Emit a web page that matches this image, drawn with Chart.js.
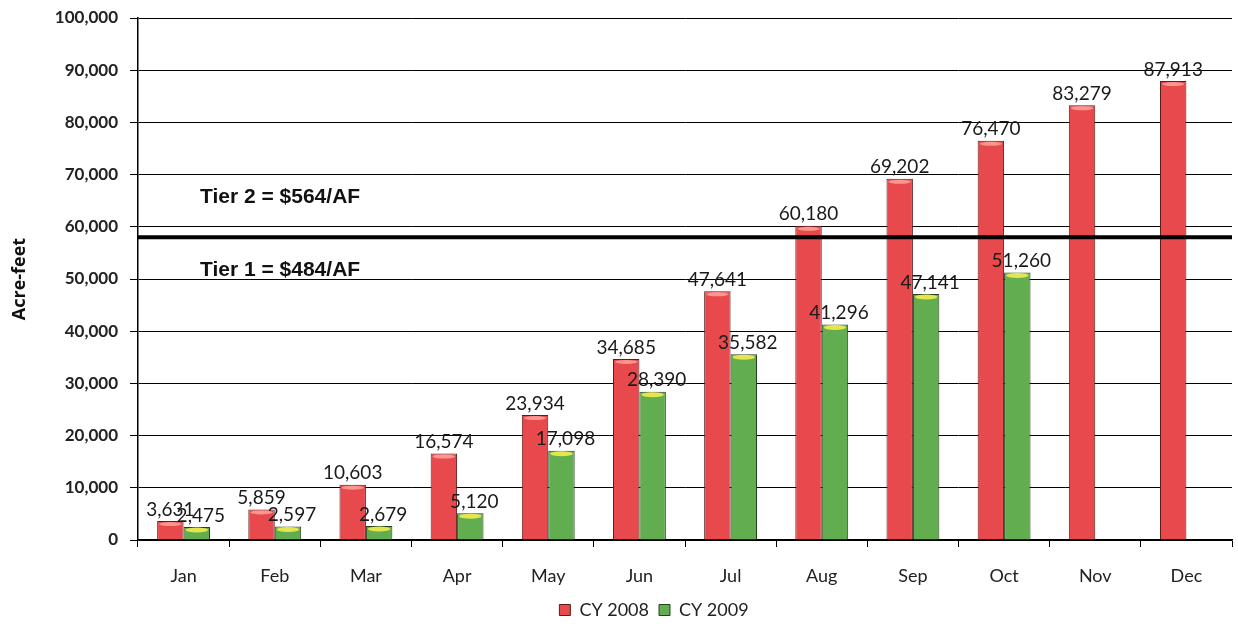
<!DOCTYPE html>
<html>
<head>
<meta charset="utf-8">
<script src="https://cdn.jsdelivr.net/npm/chart.js@4.4.1/dist/chart.umd.min.js"></script>
<style>
  html, body { margin: 0; padding: 0; background: #fff; }
  #wrap { width: 1238px; height: 624px; position: relative; }
</style>
</head>
<body>
<div id="wrap"><canvas id="c" width="1238" height="624"></canvas></div>
<script>
const months = ['Jan','Feb','Mar','Apr','May','Jun','Jul','Aug','Sep','Oct','Nov','Dec'];
const cy2008 = [3631, 5859, 10603, 16574, 23934, 34685, 47641, 60180, 69202, 76470, 83279, 87913];
const cy2009 = [2475, 2597, 2679, 5120, 17098, 28390, 35582, 41296, 47141, 51260, null, null];
const seriesNames = ['CY 2008', 'CY 2009'];
const tierBoundary = 58000;
const tierLabels = ['Tier 2 = $564/AF', 'Tier 1 = $484/AF'];
const tierLabelValues = [65600, 51600];
const yTicks = [0, 10000, 20000, 30000, 40000, 50000, 60000, 70000, 80000, 90000, 100000];

const fmt = v => v.toLocaleString('en-US');
const FONT = 'Lato, "Open Sans", sans-serif';

const legendShift = {
  id: 'legendShift',
  afterLayout(chart) {
    if (chart.legend) { chart.legend.left += 38; chart.legend.right += 38; }
  }
};

const overlay = {
  id: 'overlay',
  afterDatasetsDraw(chart) {
    const ctx = chart.ctx;
    const y = chart.scales.y;
    const area = chart.chartArea;
    const m1 = chart.getDatasetMeta(1);
    ctx.save();
    m1.data.forEach((el, i) => {
      if (cy2009[i] == null) return;
      const w = el.width;
      ctx.fillStyle = '#e4e64e';
      ctx.beginPath();
      ctx.ellipse(el.x, el.y + 3, w / 2 - 2, 2.5, 0, 0, Math.PI * 2);
      ctx.fill();
    });
    const m0 = chart.getDatasetMeta(0);
    m0.data.forEach((el, i) => {
      const w = el.width;
      ctx.fillStyle = 'rgba(255,170,160,0.8)';
      ctx.beginPath();
      ctx.ellipse(el.x, el.y + 3, w / 2 - 2, 2, 0, 0, Math.PI * 2);
      ctx.fill();
    });
    const ty = y.getPixelForValue(tierBoundary);
    ctx.strokeStyle = '#000';
    ctx.lineWidth = 4;
    ctx.beginPath();
    ctx.moveTo(area.left, ty);
    ctx.lineTo(area.right, ty);
    ctx.stroke();
    ctx.fillStyle = '#111';
    ctx.font = 'bold 21px "Liberation Sans", Arial, sans-serif';
    ctx.textAlign = 'left';
    ctx.textBaseline = 'middle';
    tierLabels.forEach((t, k) => {
      ctx.fillText(t, 200, y.getPixelForValue(tierLabelValues[k]));
    });
    ctx.font = '19px ' + FONT;
    ctx.fillStyle = '#1a1a1a';
    ctx.textAlign = 'center';
    ctx.textBaseline = 'bottom';
    [cy2008, cy2009].forEach((arr, d) => {
      const meta = chart.getDatasetMeta(d);
      meta.data.forEach((el, i) => {
        if (arr[i] == null) return;
        ctx.fillText(fmt(arr[i]), el.x + (d === 1 ? 4 : 0), el.y - 2);
      });
    });
    ctx.restore();
  }
};

new Chart(document.getElementById('c'), {
  type: 'bar',
  data: {
    labels: months,
    datasets: [
      { label: seriesNames[0], data: cy2008, backgroundColor: '#e8494c', borderColor: '#5a1c1c', borderWidth: 1,
        categoryPercentage: 0.58, barPercentage: 1.0 },
      { label: seriesNames[1], data: cy2009, backgroundColor: '#62ad4f', borderColor: '#24401e', borderWidth: 1,
        categoryPercentage: 0.58, barPercentage: 1.0 }
    ]
  },
  options: {
    responsive: false,
    animation: false,
    devicePixelRatio: 1,
    layout: { padding: { left: 0, right: 6, top: 18, bottom: -5 } },
    plugins: {
      tooltip: { enabled: false },
      legend: {
        position: 'bottom',
        labels: {
          font: { family: FONT, size: 18 },
          color: '#222',
          boxWidth: 11, boxHeight: 11,
          padding: 10
        }
      }
    },
    scales: {
      x: {
        grid: { display: true, drawOnChartArea: false, color: '#000', tickLength: 7, offset: true },
        border: { display: true, color: '#000', width: 1.5 },
        ticks: { font: { family: FONT, size: 18 }, color: '#222', padding: 18 },
        afterFit(s) { s.height = 51; }
      },
      y: {
        min: 0, max: 100000,
        afterBuildTicks(s) { s.ticks = yTicks.map(v => ({ value: v })); },
        grid: { color: '#000', lineWidth: 1, tickLength: 8 },
        border: { display: true, color: '#000', width: 1.5 },
        ticks: { font: { family: FONT, size: 17, weight: 'bold' }, color: '#222', padding: 12,
                 callback: v => fmt(v) },
        title: { display: true, text: 'Acre-feet', font: { family: '"Open Sans", sans-serif', size: 18, weight: 'bold' }, color: '#111', padding: { top: 9, bottom: 0 } },
        afterFit(s) { s.width = 138; s.paddingTop = 0; s.paddingBottom = 0; }
      }
    }
  },
  plugins: [overlay, legendShift]
});
</script>
</body>
</html>
